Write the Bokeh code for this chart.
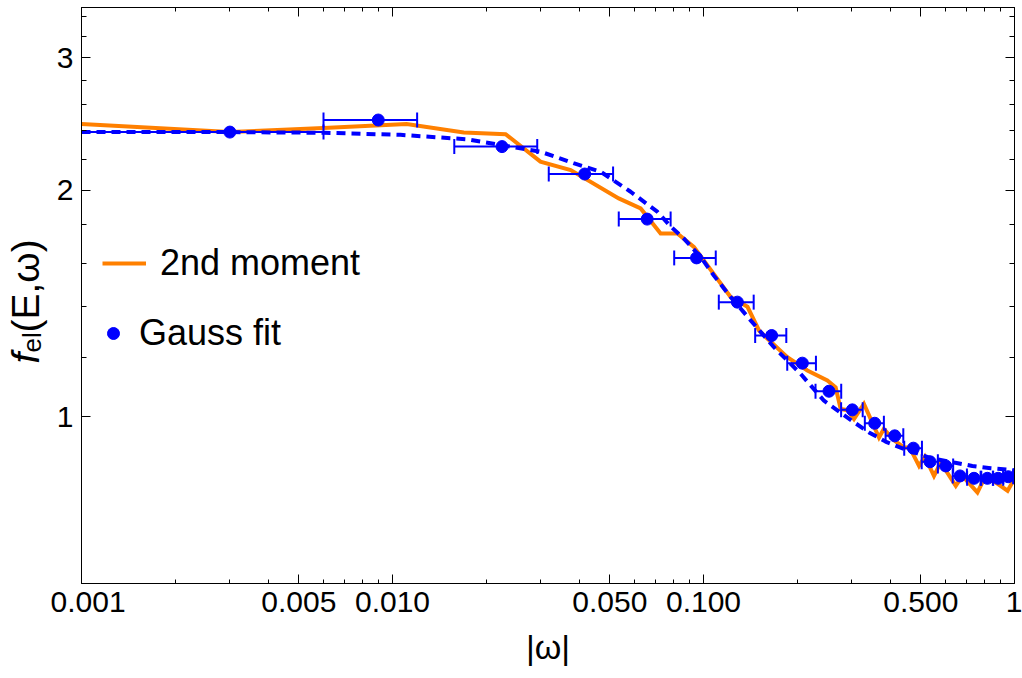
import numpy as np
from bokeh.plotting import figure
from bokeh.layouts import row
from bokeh.models import (Range1d, LogAxis, FixedTicker, CustomJSTickFormatter,
                          Legend, LegendItem)
from bokeh.core.properties import value
from bokeh.embed import file_html
from bokeh.resources import INLINE

# ---------------- data ----------------
# "2nd moment" curve
moment_w = [0.001, 0.003, 0.006, 0.0111, 0.01695, 0.0231, 0.0299, 0.0374, 0.0534,
            0.0628, 0.0728, 0.0824, 0.0931, 0.1222, 0.1333, 0.1385, 0.1508, 0.1585,
            0.186, 0.2158, 0.2502, 0.266, 0.2761, 0.2905, 0.3047, 0.328, 0.3667,
            0.380, 0.41, 0.441, 0.46, 0.4933, 0.515, 0.551, 0.579, 0.6474, 0.680,
            0.760, 0.798, 0.86, 0.950, 1.0]
moment_f = [2.45, 2.39, 2.42, 2.45, 2.387, 2.375, 2.183, 2.128, 1.951,
            1.892, 1.752, 1.752, 1.682, 1.443, 1.413, 1.40, 1.302, 1.276,
            1.200, 1.152, 1.117, 1.094, 1.024, 1.02, 0.993, 1.04, 0.938,
            0.963, 0.93, 0.910, 0.91, 0.860, 0.885, 0.834, 0.869, 0.809, 0.834,
            0.793, 0.826, 0.82, 0.797, 0.827]

# fit curve (dashed)
fit_w = [0.001, 0.003, 0.006, 0.0106, 0.01738, 0.0299, 0.0382, 0.0467, 0.0583,
         0.0710, 0.0786, 0.0865, 0.0979, 0.108, 0.1222, 0.1418, 0.1685, 0.2053,
         0.2440, 0.3047, 0.3405, 0.3904, 0.441, 0.538, 0.639, 0.732, 0.839, 1.0]
fit_f = [2.39, 2.39, 2.385, 2.37, 2.338, 2.251, 2.173, 2.117, 1.991,
         1.873, 1.789, 1.725, 1.631, 1.54, 1.443, 1.343, 1.237, 1.140,
         1.050, 0.983, 0.953, 0.924, 0.906, 0.881, 0.869, 0.860, 0.854, 0.849]

# Gauss fit points with horizontal half-widths
gauss_w = [0.003, 0.009, 0.0225, 0.0415, 0.0659, 0.095, 0.1285, 0.1656, 0.2079,
           0.2532, 0.301, 0.3552, 0.412, 0.473, 0.535, 0.601, 0.668, 0.741,
           0.818, 0.886, 0.955]
gauss_f = [2.39, 2.48, 2.286, 2.102, 1.831, 1.626, 1.420, 1.282, 1.178,
           1.081, 1.021, 0.980, 0.943, 0.908, 0.871, 0.860, 0.834, 0.828,
           0.828, 0.828, 0.832]
gauss_dw = [0.003, 0.003, 0.0067, 0.0097, 0.0125, 0.0145, 0.0165, 0.019, 0.022,
            0.024, 0.024, 0.025, 0.027, 0.031, 0.032, 0.034, 0.035, 0.037,
            0.036, 0.034, 0.035]

x_major = [0.001, 0.005, 0.01, 0.05, 0.1, 0.5, 1.0]
x_minor = [0.002, 0.003, 0.004, 0.006, 0.007, 0.008, 0.009,
           0.02, 0.03, 0.04, 0.06, 0.07, 0.08, 0.09,
           0.2, 0.3, 0.4, 0.6, 0.7, 0.8, 0.9]
y_major = [1.0, 2.0, 3.0]
y_minor = [1.2, 1.4, 1.6, 1.8, 2.2, 2.4, 2.6, 2.8, 3.2, 3.4]

# y-axis title pieces: f (italic), subscript "el", "(E,ω)"
ylabel_parts = ["f", "el", "(E,ω)"]

ORANGE = "#FF8000"
BLUE = "#0000FF"
FONT = "Liberation Sans"
LEFT_W = 50
W, H = 1022, 678
FRAME_TOP, FRAME_BOTTOM = 7, 583

# ---------------- main figure ----------------
p = figure(width=W - LEFT_W, height=H, x_axis_type="log", y_axis_type="log",
           x_range=Range1d(0.001, 1.0), y_range=Range1d(0.6, 3.5),
           output_backend="svg", toolbar_location=None,
           min_border_left=81 - LEFT_W, min_border_right=8,
           min_border_top=FRAME_TOP, min_border_bottom=H - FRAME_BOTTOM)
p.grid.visible = False
p.outline_line_color = "black"
p.outline_line_width = 1
p.background_fill_color = "white"
p.border_fill_color = "white"


def style_axis(ax, labels=True, minor_len=4):
    ax.axis_line_color = "black"
    ax.axis_line_width = 1
    ax.major_tick_in = 9
    ax.major_tick_out = 0
    ax.minor_tick_in = minor_len
    ax.minor_tick_out = 0
    ax.major_tick_line_color = "black"
    ax.minor_tick_line_color = "black"
    ax.major_label_text_font = FONT
    ax.major_label_text_color = "black"
    if labels:
        ax.major_label_text_font_size = "30px"
        ax.major_label_standoff = 8
    else:
        ax.major_label_text_font_size = "0px"
        ax.major_label_standoff = 0
        ax.formatter = CustomJSTickFormatter(code="return '';")


xa = p.xaxis[0]
xa.ticker = FixedTicker(ticks=x_major, minor_ticks=x_minor)
xa.formatter = CustomJSTickFormatter(
    code="return tick >= 1 ? tick.toFixed(0) : tick.toFixed(3);")
style_axis(xa, True, 4)
xa.axis_label = "|ω|"
xa.axis_label_text_font = FONT
xa.axis_label_text_font_size = "34px"
xa.axis_label_text_font_style = "normal"
xa.axis_label_text_color = "black"
xa.axis_label_standoff = 13

ya = p.yaxis[0]
ya.ticker = FixedTicker(ticks=y_major, minor_ticks=y_minor)
ya.formatter = CustomJSTickFormatter(code="return tick.toFixed(0);")
style_axis(ya, True, 5)

top = LogAxis(ticker=FixedTicker(ticks=x_major, minor_ticks=x_minor))
style_axis(top, False, 4)
p.add_layout(top, "above")
right = LogAxis(ticker=FixedTicker(ticks=y_major, minor_ticks=y_minor))
style_axis(right, False, 5)
p.add_layout(right, "right")

# ---------------- data marks ----------------
moment_r = p.line(moment_w, moment_f, line_color=ORANGE, line_width=4,
                  line_join="miter")
p.line(fit_w, fit_f, line_color=BLUE, line_width=4, line_dash="9 6")

gw = np.array(gauss_w)
gf = np.array(gauss_f)
gdw = np.array(gauss_dw)
lo = np.maximum(gw - gdw, 1e-9)
hi = gw + gdw
p.segment(x0=lo, y0=gf, x1=hi, y1=gf, line_color=BLUE, line_width=2)
p.scatter(np.concatenate([lo, hi]), np.concatenate([gf, gf]), marker="dash",
          angle=np.pi / 2, size=15, line_color=BLUE, line_width=2)
pts_r = p.scatter(gw, gf, marker="circle", size=12, fill_color=BLUE,
                  line_color=BLUE)

# ---------------- legends ----------------
leg_common = dict(glyph_height=42, label_height=42, padding=0, margin=0,
                  spacing=0, border_line_alpha=0, background_fill_alpha=0,
                  label_text_font=FONT, label_text_font_size="36px",
                  label_text_color="black")
leg1 = Legend(items=[LegendItem(label="2nd moment", renderers=[moment_r])],
              location=(21, 299), glyph_width=44, label_standoff=14,
              **leg_common)
leg2 = Legend(items=[LegendItem(label="Gauss fit", renderers=[pts_r])],
              location=(17, 229), glyph_width=30, label_standoff=11,
              **leg_common)
p.add_layout(leg1, "center")
p.add_layout(leg2, "center")

# ---------------- left strip with the rotated y-axis title ----------------
# the row aligns this strip's frame with the main frame (page y 7..583),
# so its y range is set so that data y == H - page y
lp = figure(width=LEFT_W, height=H, x_range=Range1d(0, LEFT_W),
            y_range=Range1d(H - FRAME_BOTTOM, H - FRAME_TOP),
            output_backend="svg", toolbar_location=None,
            x_axis_location=None, y_axis_location=None,
            min_border_left=0, min_border_right=0, min_border_top=FRAME_TOP,
            min_border_bottom=H - FRAME_BOTTOM)
lp.grid.visible = False
lp.outline_line_color = None
lp.background_fill_color = "white"
lp.border_fill_color = "white"

base_x = 25
f_start = 363      # page y where the title starts (bottom end)
el_start = 352
main_start = 332
lp.text(x=[base_x], y=[H - f_start], text=[ylabel_parts[0]], angle=np.pi / 2,
        text_font=value(FONT), text_font_size=value("39px"),
        text_font_style="italic", text_baseline="alphabetic",
        text_align="left", text_color="black")
lp.text(x=[base_x + 6], y=[H - el_start], text=[ylabel_parts[1]],
        angle=np.pi / 2, text_font=value(FONT), text_font_size=value("26px"),
        text_baseline="alphabetic", text_align="left", text_color="black")
lp.text(x=[base_x], y=[H - main_start], text=[ylabel_parts[2]],
        angle=np.pi / 2, text_font=value(FONT), text_font_size=value("39px"),
        text_baseline="alphabetic", text_align="left", text_color="black")

layout = row(lp, p, spacing=0)
open("out.html", "w").write(file_html(layout, INLINE))
